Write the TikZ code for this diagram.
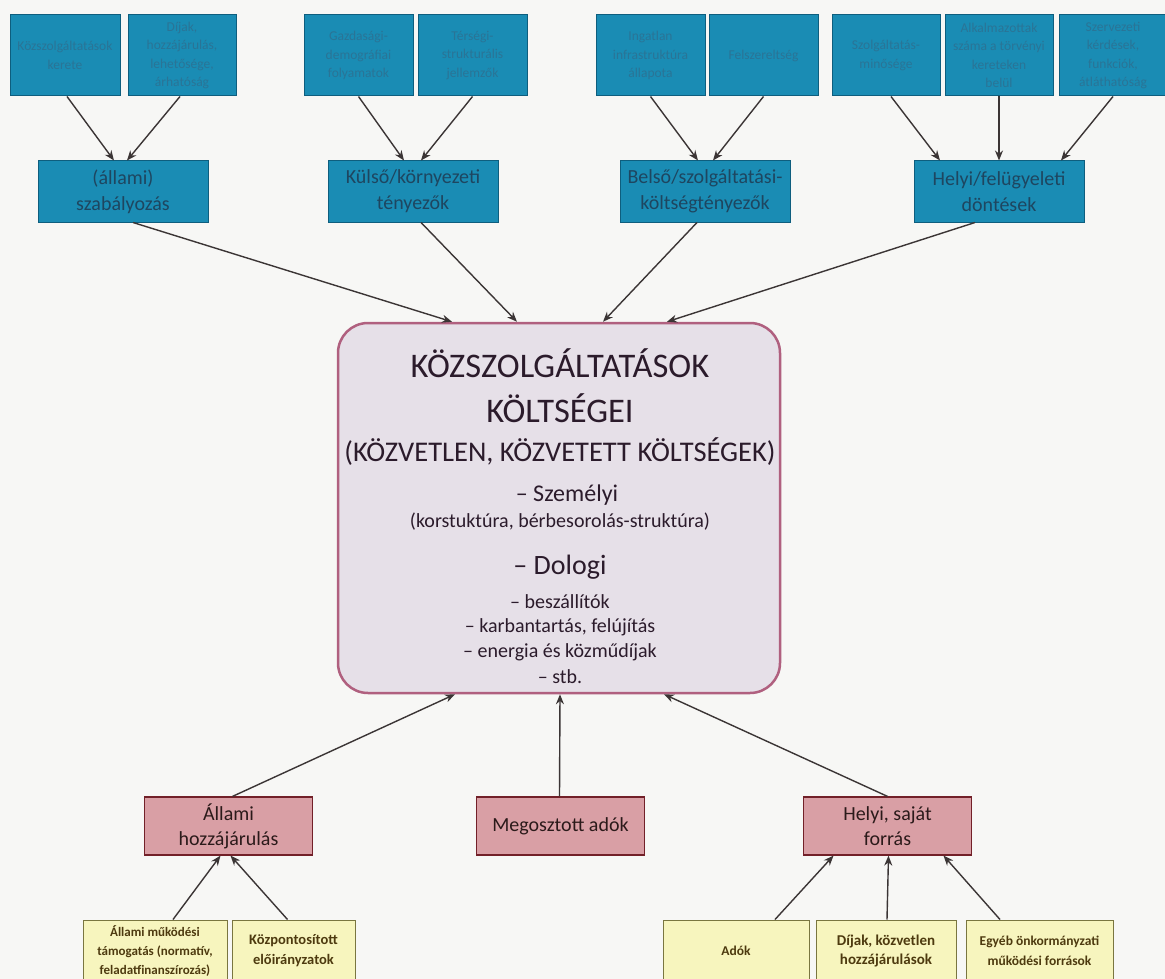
\documentclass[tikz,border=0pt]{standalone}
\usepackage{fontspec}
\setmainfont{Carlito}
\usetikzlibrary{arrows.meta}
\definecolor{bgc}{HTML}{F7F7F5}
\definecolor{bluefill}{HTML}{1A8CB4}
\definecolor{blueborder}{HTML}{0E5E7E}
\definecolor{toptxt}{HTML}{2A7496}
\definecolor{midtxt}{HTML}{1E4660}
\definecolor{ctrfill}{HTML}{E6E0E8}
\definecolor{ctrborder}{HTML}{B0607F}
\definecolor{ctrtxt}{HTML}{2B1B2B}
\definecolor{pinkfill}{HTML}{D99FA5}
\definecolor{pinkborder}{HTML}{722028}
\definecolor{pinktxt}{HTML}{2B1A1A}
\definecolor{yelfill}{HTML}{F7F5BE}
\definecolor{yelborder}{HTML}{7A7640}
\definecolor{yeltxt}{HTML}{4D3A0F}
\definecolor{arrowc}{HTML}{3B3535}
\newcommand{\fs}[2]{\fontsize{#1}{#2}\selectfont}
\begin{document}
\begin{tikzpicture}[x=1pt,y=-1pt,
  topbox/.style={draw=blueborder, fill=bluefill, line width=1pt, minimum width=#1, minimum height=81pt, inner sep=1pt, align=center, text=toptxt, font=\fs{13.5}{18.5}},
  midbox/.style={draw=blueborder, fill=bluefill, line width=1pt, minimum width=170pt, minimum height=61pt, inner sep=1pt, align=center, text=midtxt, font=\fs{20}{26}},
  ctrbox/.style={draw=ctrborder, fill=ctrfill, line width=2.5pt, rounded corners=30pt, minimum width=442pt, minimum height=370pt},
  ctrtext/.style={text=ctrtxt, inner sep=0pt, align=center},
  pinkbox/.style={draw=pinkborder, fill=pinkfill, line width=1.2pt, minimum width=168pt, minimum height=58pt, inner sep=1pt, align=center, text=pinktxt, font=\fs{20}{25}},
  yelbox/.style={draw=yelborder, fill=yelfill, line width=1pt, minimum width=#1, minimum height=62pt, inner sep=1pt, align=center, text=yeltxt},
  conn/.style={draw=arrowc, line width=1.4pt, -{Stealth[length=10pt,width=8pt]}}
]
\useasboundingbox (0,0) rectangle (1165,979);
\clip (0,0) rectangle (1165,979);
\fill[bgc] (0,0) rectangle (1165,979);

% top boxes
\node[topbox=110pt] (t1) at (65,55.5) {Közszolgáltatások\\kerete};
\node[topbox=108pt] (t2) at (182,55.5) {Díjak,\\hozzájárulás,\\lehetősége,\\árhatóság};
\node[topbox=109pt] (t3) at (358.5,55.5) {Gazdasági-\\demográfiai\\folyamatok};
\node[topbox=109pt] (t4) at (472.5,55.5) {Térségi-\\strukturális\\jellemzők};
\node[topbox=109pt] (t5) at (650.5,55.5) {Ingatlan\\infrastruktúra\\állapota};
\node[topbox=109pt] (t6) at (763.5,55.5) {Felszereltség};
\node[topbox=108pt] (t7) at (886,55.5) {Szolgáltatás-\\minősége};
\node[topbox=108pt] (t8) at (999,55.5) {Alkalmazottak\\száma a törvényi\\kereteken\\belül};
\node[topbox=108pt] (t9) at (1113,55.5) {Szervezeti\\kérdések,\\funkciók,\\átláthatóság};

% middle boxes
\node[midbox] (ma) at (123,191.5) {(állami)\\szabályozás};
\node[midbox] (mb) at (413,191.5) {Külső/környezeti\\tényezők};
\node[midbox] (mc) at (705,191.5) {Belső/szolgáltatási-\\költségtényezők};
\node[midbox] (md) at (999,191.5) {Helyi/felügyeleti\\döntések};

% centre box
\node[ctrbox] (ctr) at (559,508) {};
\node[ctrtext, font=\fs{34.5}{34.5}] (c1) at (560,363) {KÖZSZOLGÁLTATÁSOK};
\node[ctrtext, font=\fs{34.5}{34.5}] (c2) at (560,408) {KÖLTSÉGEI};
\node[ctrtext, font=\fs{28.5}{28.5}] (c3) at (560,452) {(KÖZVETLEN, KÖZVETETT KÖLTSÉGEK)};
\node[ctrtext, font=\fs{24}{24}] (c4) at (567,495) {– Személyi};
\node[ctrtext, font=\fs{20}{20}] (c5) at (560,522) {(korstuktúra, bérbesorolás-struktúra)};
\node[ctrtext, font=\fs{28}{28}] (c6) at (560,567) {– Dologi};
\node[ctrtext, font=\fs{20}{20}] (c7) at (560,602) {– beszállítók};
\node[ctrtext, font=\fs{20}{20}] (c8) at (560,627) {– karbantartás, felújítás};
\node[ctrtext, font=\fs{20}{20}] (c9) at (560,652) {– energia és közműdíjak};
\node[ctrtext, font=\fs{20}{20}] (c10) at (560,677) {– stb.};

% pink boxes
\node[pinkbox] (pa) at (228.5,826) {Állami\\hozzájárulás};
\node[pinkbox] (pb) at (560.5,826) {Megosztott adók};
\node[pinkbox] (pc) at (887.5,826) {Helyi, saját\\forrás};

% yellow boxes
\node[yelbox=144pt, font=\bfseries\fs{13}{19}] (y1) at (155,951) {Állami működési\\támogatás (normatív,\\feladatfinanszírozás)};
\node[yelbox=123pt, font=\bfseries\fs{14.5}{20}] (y2) at (293.5,951) {Központosított\\előirányzatok};
\node[yelbox=146pt, font=\bfseries\fs{13.5}{19}] (y3) at (736,951) {Adók};
\node[yelbox=140pt, font=\bfseries\fs{15}{19.5}] (y4) at (886,951) {Díjak, közvetlen\\hozzájárulások};
\node[yelbox=147pt, font=\bfseries\fs{13.5}{19.5}] (y5) at (1039.5,951) {Egyéb önkormányzati\\működési források};

% top -> middle
\draw[conn] ([xshift=2pt]t1.south) -- ([xshift=-9pt]ma.north);
\draw[conn] ([xshift=-2pt]t2.south) -- ([xshift=4pt]ma.north);
\draw[conn] (t3.south) -- ([xshift=-9pt]mb.north);
\draw[conn] (t4.south) -- ([xshift=8pt]mb.north);
\draw[conn] (t5.south) -- ([xshift=-7pt]mc.north);
\draw[conn] (t6.south) -- ([xshift=8pt]mc.north);
\draw[conn] ([xshift=5pt]t7.south) -- ([xshift=-59pt]md.north);
\draw[conn] (t8.south) -- (md.north);
\draw[conn] (t9.south) -- ([xshift=62pt]md.north);

% middle -> centre
\draw[conn] ([xshift=10pt]ma.south) -- ([xshift=-107pt]ctr.north);
\draw[conn] ([xshift=8pt]mb.south) -- ([xshift=-42pt]ctr.north);
\draw[conn] ([xshift=-8pt]mc.south) -- ([xshift=44pt]ctr.north);
\draw[conn] ([xshift=-24pt]md.south) -- ([xshift=108pt]ctr.north);

% pink -> centre
\draw[conn] ([xshift=4pt]pa.north) -- ([xshift=-104pt]ctr.south);
\draw[conn] ([xshift=-1pt]pb.north) -- ([xshift=1pt]ctr.south);
\draw[conn] (pc.north) -- ([xshift=105pt]ctr.south);

% yellow -> pink
\draw[conn] ([xshift=18pt]y1.north) -- ([xshift=-8pt]pa.south);
\draw[conn] ([xshift=-6pt]y2.north) -- ([xshift=2pt]pa.south);
\draw[conn] ([xshift=39pt]y3.north) -- ([xshift=-54pt]pc.south);
\draw[conn] ([xshift=1pt]y4.north) -- ([xshift=1pt]pc.south);
\draw[conn] ([xshift=-39.5pt]y5.north) -- ([xshift=56pt]pc.south);
\end{tikzpicture}
\end{document}
